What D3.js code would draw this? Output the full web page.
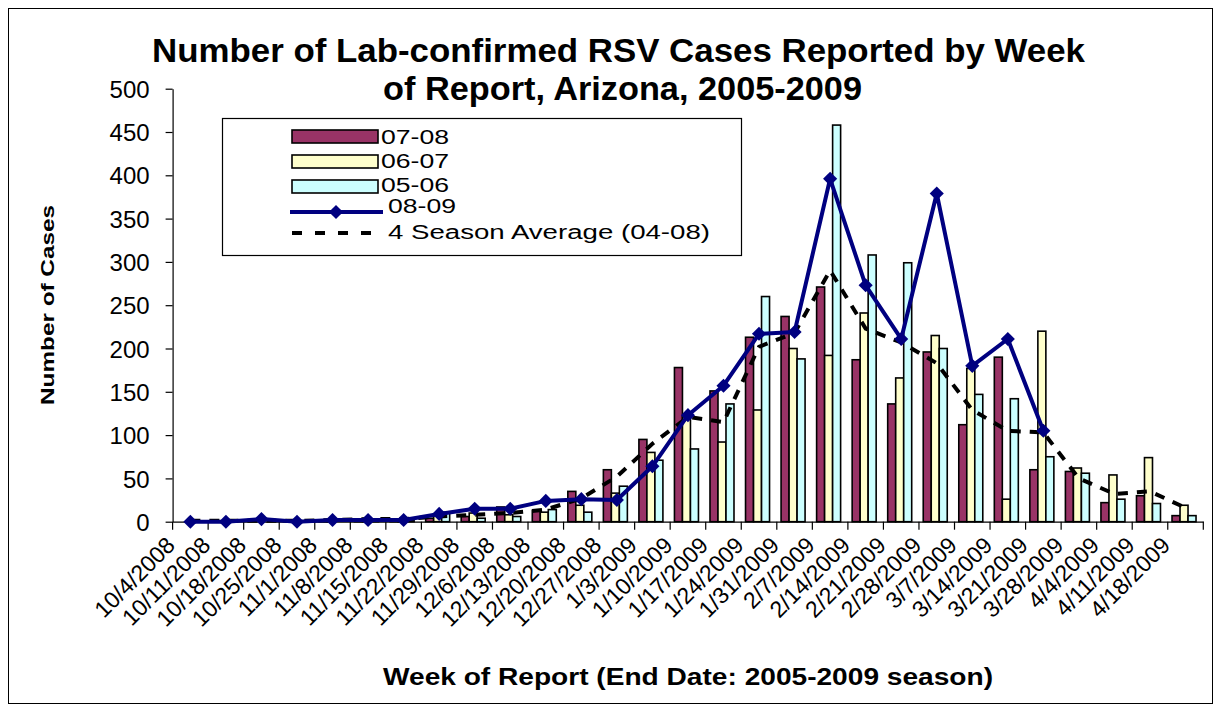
<!DOCTYPE html>
<html>
<head>
<meta charset="utf-8">
<script src="https://cdn.jsdelivr.net/npm/d3@7"></script>
<style>
  html, body { margin: 0; padding: 0; background: #fff; }
  svg { display: block; }
  text { font-family: "Liberation Sans", Arial, sans-serif; fill: #000; }
</style>
</head>
<body>
<svg id="chart" width="1219" height="713"></svg>
<script>
// ---------------- data ----------------
const weeks = ["10/4/2008","10/11/2008","10/18/2008","10/25/2008","11/1/2008","11/8/2008","11/15/2008",
  "11/22/2008","11/29/2008","12/6/2008","12/13/2008","12/20/2008","12/27/2008","1/3/2009","1/10/2009",
  "1/17/2009","1/24/2009","1/31/2009","2/7/2009","2/14/2009","2/21/2009","2/28/2009","3/7/2009",
  "3/14/2009","3/21/2009","3/28/2009","4/4/2009","4/11/2009","4/18/2009"];

const season0708 = [0,0,0,1,1,3,2,4,6,17,13,35,60,95,178,151,213,237,271,187,136,196,112,190,60,58,22,30,7];
const season0607 = [0,0,0,0,1,1,1,7,10,8,11,19,33,80,121,92,129,200,192,241,166,215,177,26,220,62,54,74,19];
const season0506 = [0,0,0,0,0,1,1,11,4,6,14,11,41,71,84,136,260,188,458,308,299,200,147,142,75,56,26,21,7];
const season0809 = [0,0,3,0,2,2,2,9,15,15,24,26,25,64,123,157,217,219,396,273,211,379,180,211,105];
const avg0408    = [1,1,1,1,2,3,3,6,8,10,14,27,52,90,121,115,202,218,290,223,207,183,129,105,103,50,32,35,16];

const yTicks = [0,50,100,150,200,250,300,350,400,450,500];

const barSeries = [
  {name:"07-08", values: season0708, fill:"#993366"},
  {name:"06-07", values: season0607, fill:"#FFFFCC"},
  {name:"05-06", values: season0506, fill:"#CCFFFF"}
];

// ---------------- layout ----------------
const svg = d3.select("#chart");
const plotL = 172.6, plotR = 1203.3, plotT = 88.7, plotB = 521.7;

const x = d3.scaleBand().domain(weeks).range([plotL, plotR]).paddingInner(0).paddingOuter(0);
const inner = d3.scaleBand().domain(barSeries.map(s => s.name)).range([-13.5, 10.5]).padding(0);
const y = d3.scaleLinear().domain([0, 500]).range([plotB, plotT]);
const cx = d => x(d) + x.bandwidth() / 2;

// outer frame
svg.append("rect").attr("x", 8.5).attr("y", 8.5).attr("width", 1204).attr("height", 695)
  .attr("fill", "none").attr("stroke", "#000").attr("stroke-width", 1);

// title
const title = svg.append("g");
title.append("text").attr("x", 152).attr("y", 62).attr("font-size", 33).attr("font-weight", "bold")
  .attr("textLength", 933).attr("lengthAdjust", "spacingAndGlyphs")
  .text("Number of Lab-confirmed RSV Cases Reported by Week");
title.append("text").attr("x", 383).attr("y", 100).attr("font-size", 33).attr("font-weight", "bold")
  .attr("textLength", 479).attr("lengthAdjust", "spacingAndGlyphs")
  .text("of Report, Arizona, 2005-2009");

// bars
const groups = svg.append("g").selectAll("g").data(barSeries).join("g").attr("fill", d => d.fill);
groups.selectAll("rect")
  .data(s => s.values.map((v, i) => ({s: s.name, w: weeks[i], v})))
  .join("rect")
  .attr("x", d => cx(d.w) + inner(d.s))
  .attr("width", inner.bandwidth())
  .attr("y", d => y(d.v))
  .attr("height", d => y(0) - y(d.v))
  .attr("stroke", "#000").attr("stroke-width", 1.6);

// axes
const yAxis = svg.append("g").attr("transform", `translate(${plotL},0)`)
  .call(d3.axisLeft(y).tickValues(yTicks).tickSize(7).tickSizeOuter(0).tickPadding(16));
yAxis.selectAll("text").attr("font-size", 24).attr("font-family", "Liberation Sans, Arial, sans-serif")
  .attr("dy", "0.36em");
yAxis.selectAll("line, path").attr("stroke", "#000").attr("stroke-width", 1.2);

const xAxis = svg.append("g").attr("transform", `translate(0,${plotB})`)
  .call(d3.axisBottom(x).tickSize(0).tickSizeOuter(0).tickFormat(""));
xAxis.selectAll("path").attr("stroke", "#000").attr("stroke-width", 1.2);
const bounds = weeks.map(w => x(w)).concat([x(weeks[weeks.length - 1]) + x.bandwidth()]);
xAxis.selectAll("line.b").data(bounds).join("line").attr("class", "b")
  .attr("x1", d => d).attr("x2", d => d).attr("y1", 0).attr("y2", 8)
  .attr("stroke", "#000").attr("stroke-width", 1.2);

// x labels
svg.append("g").selectAll("text").data(weeks).join("text")
  .attr("transform", d => `translate(${cx(d) - 14},${plotB + 25}) rotate(-45)`)
  .attr("text-anchor", "end").attr("font-size", 23)
  .text(d => d);

// average line (dashed)
const line = d3.line().x((d, i) => cx(weeks[i])).y(d => y(d));
svg.append("path").datum(avg0408).attr("d", line)
  .attr("fill", "none").attr("stroke", "#000").attr("stroke-width", 4)
  .attr("stroke-dasharray", "10,9");

// 08-09 line
svg.append("path").datum(season0809).attr("d", line)
  .attr("fill", "none").attr("stroke", "#000080").attr("stroke-width", 4).attr("stroke-linejoin", "round");
const diamond = d3.symbol().type(d3.symbolSquare).size(100);
svg.append("g").selectAll("path").data(season0809).join("path")
  .attr("transform", (d, i) => `translate(${cx(weeks[i])},${y(d)}) rotate(45)`)
  .attr("d", diamond).attr("fill", "#000080");

// axis titles
svg.append("text").attr("x", 383).attr("y", 685).attr("font-size", 23).attr("font-weight", "bold")
  .attr("textLength", 610).attr("lengthAdjust", "spacingAndGlyphs")
  .text("Week of Report (End Date: 2005-2009 season)");
svg.append("text").attr("transform", "translate(54,405) rotate(-90)")
  .attr("font-size", 19).attr("font-weight", "bold")
  .attr("textLength", 200).attr("lengthAdjust", "spacingAndGlyphs")
  .text("Number of Cases");

// legend
const lg = svg.append("g");
lg.append("rect").attr("x", 222.5).attr("y", 118.5).attr("width", 519).attr("height", 137)
  .attr("fill", "#fff").attr("stroke", "#000").attr("stroke-width", 1.2);
const legendBars = [
  {name:"07-08", fill:"#993366", y:130, ty:144},
  {name:"06-07", fill:"#FFFFCC", y:155, ty:168},
  {name:"05-06", fill:"#CCFFFF", y:180, ty:192}
];
legendBars.forEach(b => {
  lg.append("rect").attr("x", 292).attr("y", b.y).attr("width", 86).attr("height", 13)
    .attr("fill", b.fill).attr("stroke", "#000").attr("stroke-width", 1.6);
  lg.append("text").attr("x", 381).attr("y", b.ty).attr("font-size", 20)
    .attr("textLength", 68).attr("lengthAdjust", "spacingAndGlyphs").text(b.name);
});
lg.append("line").attr("x1", 290).attr("x2", 383).attr("y1", 212).attr("y2", 212)
  .attr("stroke", "#000080").attr("stroke-width", 4);
lg.append("path").attr("transform", "translate(336,212) rotate(45)").attr("d", diamond).attr("fill", "#000080");
lg.append("text").attr("x", 388).attr("y", 213).attr("font-size", 20)
  .attr("textLength", 68).attr("lengthAdjust", "spacingAndGlyphs").text("08-09");
lg.append("line").attr("x1", 292).attr("x2", 380).attr("y1", 233).attr("y2", 233)
  .attr("stroke", "#000").attr("stroke-width", 4).attr("stroke-dasharray", "10,13");
lg.append("text").attr("x", 388).attr("y", 239).attr("font-size", 20)
  .attr("textLength", 322).attr("lengthAdjust", "spacingAndGlyphs").text("4 Season Average (04-08)");
</script>
</body>
</html>
